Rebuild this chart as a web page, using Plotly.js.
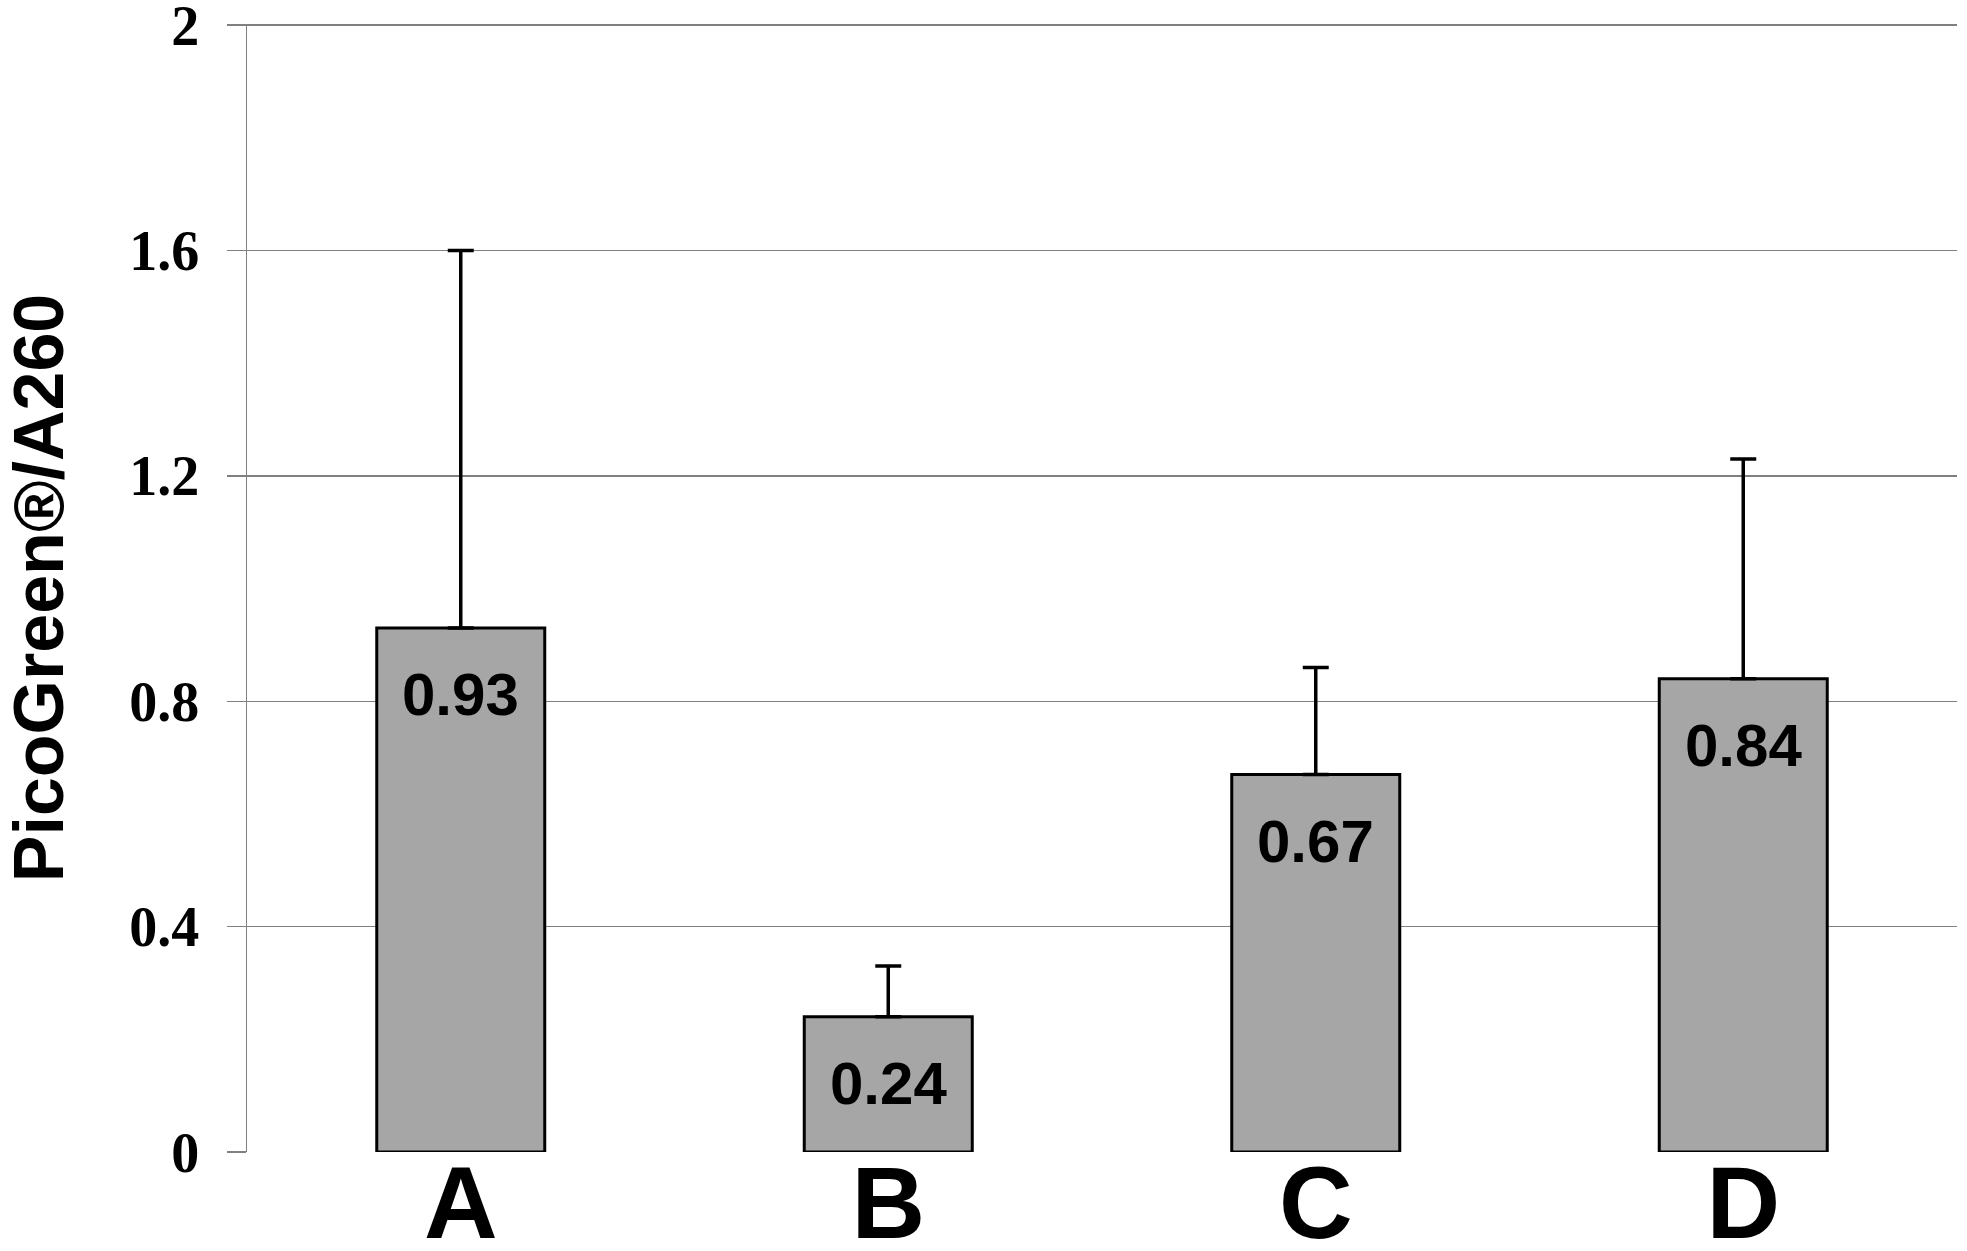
<!DOCTYPE html>
<html>
<head>
<meta charset="utf-8">
<script src="https://cdn.plot.ly/plotly-3.0.1.min.js"></script>
<style>html,body{margin:0;padding:0;background:#fff;}#chart{width:1967px;height:1251px;}</style>
</head>
<body>
<div id="chart"></div>
<script>
const categories = ["A", "B", "C", "D"];
const values = [0.93, 0.24, 0.67, 0.84];
const errorsUp = [0.67, 0.09, 0.19, 0.39];
const valueLabels = ["0.93", "0.24", "0.67", "0.84"];
const yTickVals = [0, 0.4, 0.8, 1.2, 1.6, 2];
const yTickText = ["0", "0.4", "0.8", "1.2", "1.6", "2"];

const trace = {
  type: "bar",
  x: categories,
  y: values,
  marker: { color: "#a6a6a6", line: { color: "#000", width: 3 } },
  error_y: {
    type: "data", symmetric: false, array: errorsUp,
    arrayminus: values.map(() => 0),
    color: "#000", thickness: 3.5, width: 13
  },
  hoverinfo: "none"
};

const annotations = categories.map((c, i) => ({
  x: c, y: values[i], xref: "x", yref: "y",
  text: valueLabels[i], showarrow: false,
  yanchor: "top", yshift: -31,
  font: { family: "Liberation Sans", size: 60, color: "#000", weight: "bold" }
}));

const layout = {
  width: 1967, height: 1251,
  margin: { l: 247, r: 10, t: 24, b: 99 },
  paper_bgcolor: "#fff", plot_bgcolor: "#fff",
  showlegend: false,
  bargap: 0.607,
  xaxis: {
    type: "category", range: [-0.5, 3.5],
    showgrid: false, zeroline: false, showline: false,
    ticks: "", ticklabelstandoff: -17, ticklabeloverflow: "allow",
    tickfont: { family: "Liberation Sans", size: 102, color: "#000", weight: "bold" }
  },
  yaxis: {
    range: [0, 2.002], tickvals: yTickVals, ticktext: yTickText,
    showgrid: true, gridcolor: "#808080", gridwidth: 1.5,
    zeroline: false, showline: true, linecolor: "#808080", linewidth: 1.5,
    ticks: "outside", ticklen: 19, tickcolor: "#808080", tickwidth: 1.5,
    ticklabelstandoff: 16, ticklabeloverflow: "allow",
    tickfont: { family: "Liberation Serif", size: 56, color: "#000", weight: "bold" },
    title: { text: "PicoGreen®/A260", standoff: 45,
      font: { family: "Liberation Sans", size: 70, color: "#000", weight: "bold" } }
  },
  annotations: annotations
};

Plotly.newPlot("chart", [trace], layout, { staticPlot: true });
</script>
</body>
</html>
